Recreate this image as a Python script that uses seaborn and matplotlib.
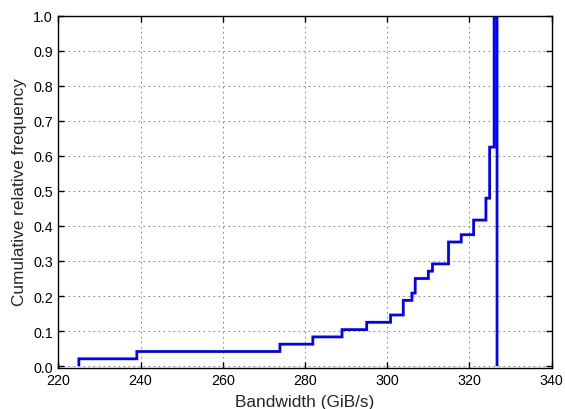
import numpy as np
import matplotlib
matplotlib.use("Agg")
import matplotlib.pyplot as plt
import seaborn as sns

# measured bandwidth samples (GiB/s), 48 runs
bandwidth = (
    [225.0, 239.1, 273.9, 281.9, 289.0, 295.0, 300.8]
    + [303.9] * 2 + [306.0] + [306.8] * 2 + [310.0] + [311.0]
    + [314.9] * 3 + [318.0] + [321.0] * 2 + [324.0] * 3
    + [324.9] * 7 + [326.0] * 18
)
hist_range = (225.0, 326.7)
x_ticks = [220, 240, 260, 280, 300, 320, 340]
y_ticks = [0.0, 0.1, 0.2, 0.3, 0.4, 0.5, 0.6, 0.7, 0.8, 0.9, 1.0]

sns.set_theme(style="white", rc={
    "axes.edgecolor": "black",
    "axes.linewidth": 1.0,
    "xtick.direction": "in",
    "ytick.direction": "in",
    "xtick.top": True,
    "ytick.right": True,
    "xtick.bottom": True,
    "ytick.left": True,
    "xtick.major.size": 4,
    "ytick.major.size": 4,
    "xtick.major.width": 1.0,
    "ytick.major.width": 1.0,
    "xtick.color": "black",
    "ytick.color": "black",
})
plt.rcParams["font.family"] = ["Liberation Sans", "DejaVu Sans"]

fig, ax = plt.subplots(figsize=(5.65, 4.10), dpi=100)
fig.subplots_adjust(left=0.1032, right=0.9765, bottom=0.1012, top=0.9593)

# cumulative step histogram, closed down to zero at both ends
ax.hist(bandwidth, bins=1017, range=hist_range, density=True, cumulative=True,
        histtype="step", color="#0000ff", linewidth=2)

ax.set_xlim(220, 340)
ax.set_ylim(-0.004, 1.0)
ax.set_xticks(x_ticks)
ax.set_yticks(y_ticks)
ax.set_yticklabels([f"{v:.1f}" for v in y_ticks])
ax.tick_params(labelsize=10.3, pad=4)
ax.grid(True, color="0.45", linestyle=(0, (2, 4)), linewidth=0.6)
ax.set_xlabel("Bandwidth (GiB/s)", fontsize=12.4, labelpad=5)
ax.set_ylabel("Cumulative relative frequency", fontsize=12.4, labelpad=4)

plt.savefig("out.png", dpi=100)
